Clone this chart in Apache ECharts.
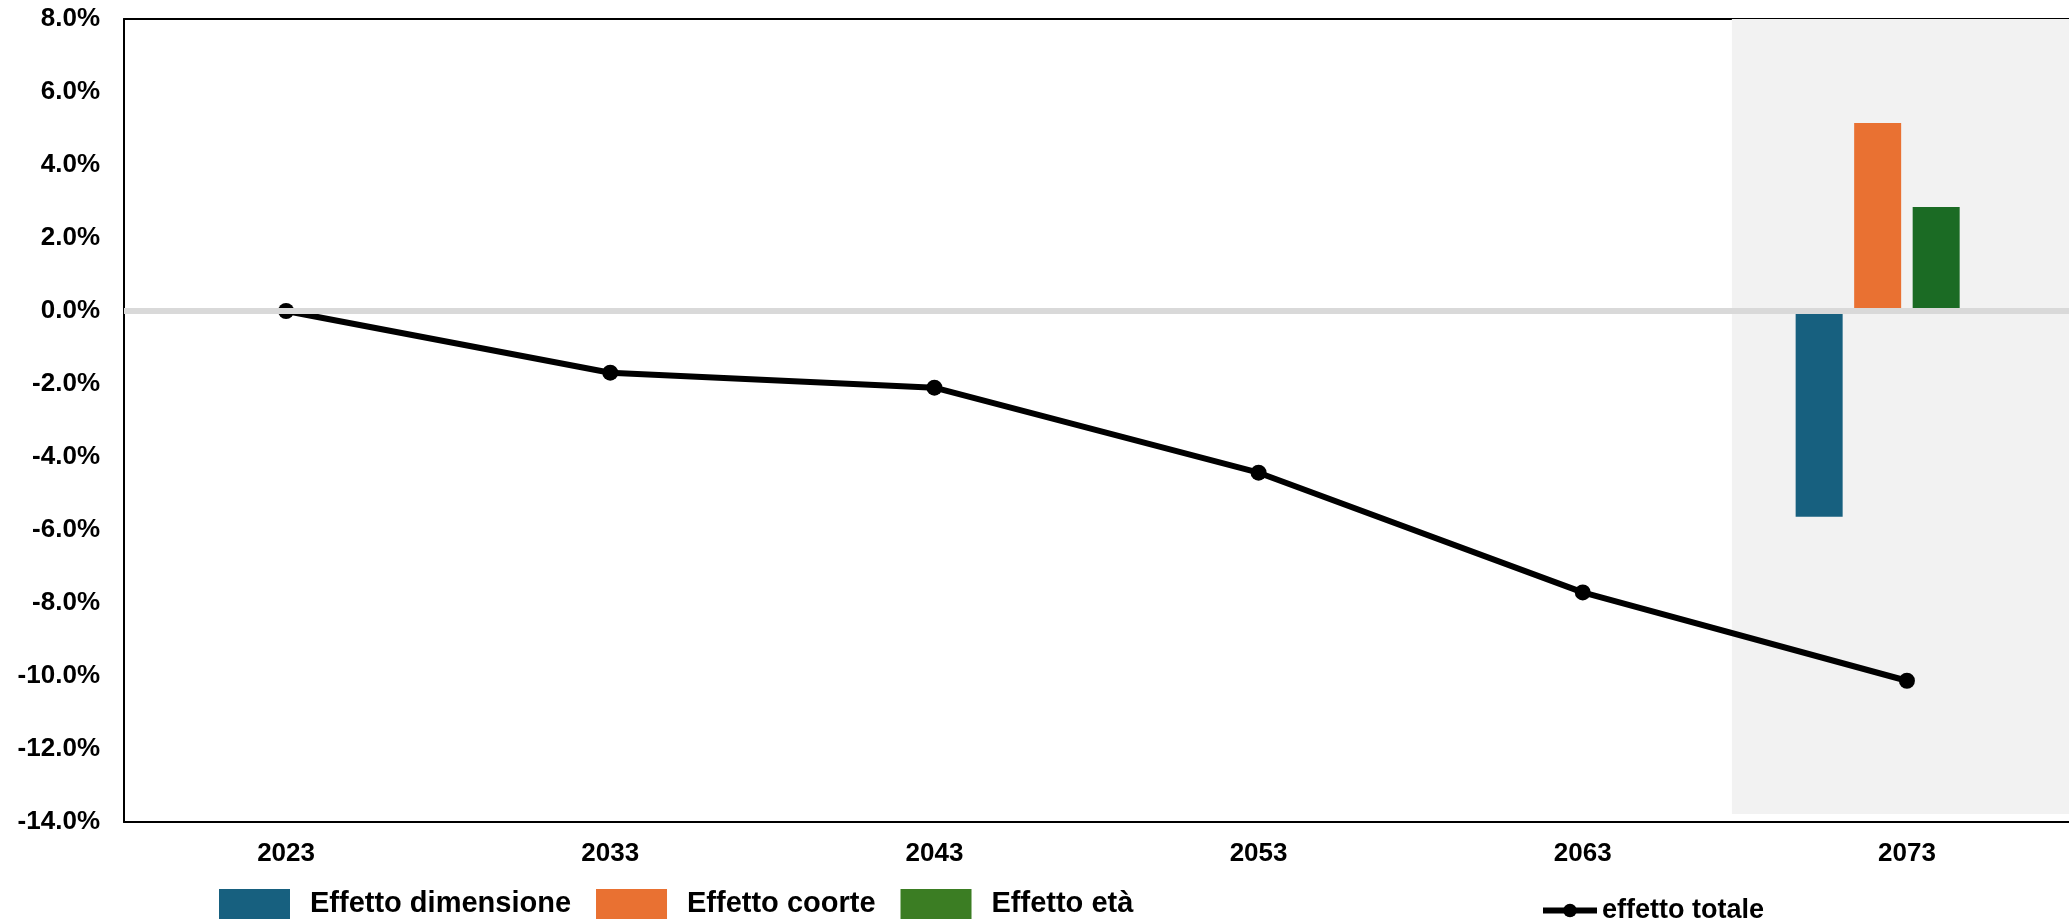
<!DOCTYPE html>
<html><head><meta charset="utf-8">
<script src="https://cdn.jsdelivr.net/npm/echarts@6/dist/echarts.min.js"></script>
<style>html,body{margin:0;padding:0;background:#fff}#c{width:2069px;height:923px}</style>
</head><body><div id="c"></div>
<script>
const years = ['2023', '2033', '2043', '2053', '2063', '2073'];
const effettoDimensione = [null, null, null, null, null, -5.64];
const effettoCoorte = [null, null, null, null, null, 5.15];
const effettoEta = [null, null, null, null, null, 2.85];
const effettoTotale = [0.0, -1.69, -2.10, -4.43, -7.71, -10.13];
const yMin = -14, yMax = 8, yStep = 2;
// projection (shaded) period, in category-band units of the x axis
const shadeFrom = 4.96, shadeTo = 6;

const FONT = "'Liberation Sans', Arial, sans-serif";
const chart = echarts.init(document.getElementById('c'));
const lbl = { color: '#000', fontWeight: 'bold', fontFamily: FONT };

chart.setOption({
  animation: false,
  backgroundColor: '#fff',
  grid: { left: 124, top: 19, width: 1948, height: 803, containLabel: false },
  xAxis: [
    {
      type: 'category', data: years, position: 'bottom', boundaryGap: true,
      axisLine: { onZero: false, lineStyle: { color: '#000', width: 2 } },
      axisTick: { show: false },
      axisLabel: Object.assign({ fontSize: 26, margin: 19 }, lbl),
      splitLine: { show: false }
    },
    {
      type: 'value', min: 0, max: 6, position: 'top',
      axisLine: { show: true, onZero: false, lineStyle: { color: '#000', width: 2 } },
      axisTick: { show: false }, axisLabel: { show: false }, splitLine: { show: false }
    }
  ],
  yAxis: {
    type: 'value', min: yMin, max: yMax, interval: yStep,
    axisLine: { show: true, onZero: false, lineStyle: { color: '#000', width: 2 } },
    axisTick: { show: false },
    splitLine: { show: false },
    axisLabel: Object.assign({ fontSize: 26, margin: 24, formatter: v => v.toFixed(1) + '%' }, lbl)
  },
  legend: [
    {
      left: 219, top: 889, padding: 0, itemWidth: 71, itemHeight: 30, itemGap: 25, icon: 'rect',
      textStyle: Object.assign({ fontSize: 29, padding: [0, 0, 0, 15] }, lbl),
      data: [
        { name: 'Effetto dimensione', itemStyle: { color: '#17607f' } },
        { name: 'Effetto coorte', itemStyle: { color: '#e97132' } },
        { name: 'Effetto età', itemStyle: { color: '#3b7d23' } }
      ]
    },
    {
      left: 1540, top: 897, padding: 0, itemWidth: 54, itemHeight: 17,
      textStyle: Object.assign({ fontSize: 27 }, lbl),
      lineStyle: { width: 6, color: '#000' },
      itemStyle: { color: '#000' },
      data: ['effetto totale']
    }
  ],
  series: [
    {
      type: 'line', name: 'shade', xAxisIndex: 1, z: 1, clip: false, silent: true,
      data: [[shadeFrom, yMax], [shadeTo, yMin]],
      symbol: 'none', lineStyle: { opacity: 0 },
      markArea: {
        silent: true,
        itemStyle: { color: '#f2f2f2' },
        data: [[{ xAxis: shadeFrom, yAxis: yMax + 0.14 }, { xAxis: shadeTo, yAxis: yMin + 0.22 }]]
      }
    },
    {
      type: 'bar', name: 'Effetto dimensione', data: effettoDimensione,
      barWidth: 47, barGap: '24.5%', itemStyle: { color: '#17607f' }
    },
    {
      type: 'bar', name: 'Effetto coorte', data: effettoCoorte,
      barWidth: 47, barGap: '24.5%', itemStyle: { color: '#e97132' }
    },
    {
      type: 'bar', name: 'Effetto età', data: effettoEta,
      barWidth: 47, barGap: '24.5%', itemStyle: { color: '#1b6b24' },
      markLine: {
        silent: true, symbol: ['none', 'none'], label: { show: false },
        lineStyle: { color: '#d9d9d9', width: 6, type: 'solid' },
        data: [{ yAxis: 0 }]
      }
    },
    {
      type: 'bar', name: '_empty', data: years.map(() => null),
      barWidth: 47, barGap: '24.5%'
    },
    {
      type: 'line', name: 'effetto totale', data: effettoTotale, z: 4,
      symbol: 'circle', symbolSize: 16, showAllSymbol: true,
      lineStyle: { color: '#000', width: 6 },
      itemStyle: { color: '#000' }
    }
  ]
});
</script>
</body></html>
